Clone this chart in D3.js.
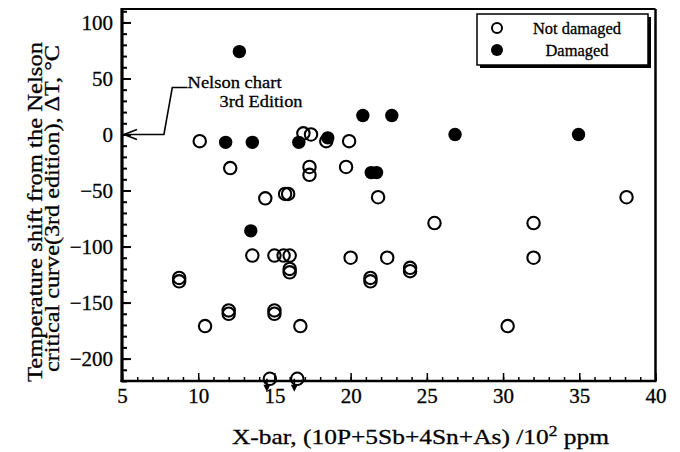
<!DOCTYPE html>
<html>
<head>
<meta charset="utf-8">
<script src="https://cdn.jsdelivr.net/npm/d3@7"></script>
<style>
  html, body { margin: 0; padding: 0; background: #fff; }
  svg { display: block; }
  text { font-family: "Liberation Serif", "Times New Roman", serif; fill: #000; stroke: #000; stroke-width: 0.3px; }
</style>
</head>
<body>
<svg id="chart" width="680" height="452"></svg>
<script>
// ---- data ----
const notDamagedX = [10.1, 12.1, 14.4, 15.7, 15.9, 16.9, 17.4, 17.3, 17.3, 18.4, 19.9, 19.7, 21.8, 38.1,
                     25.5, 32.0, 13.55, 15.0, 15.6, 16.0, 16.0, 16.0, 20.0, 22.4, 32.0,
                     8.75, 8.75, 21.3, 21.3, 23.9, 23.9, 10.45, 12.0, 12.0, 15.0, 15.0, 16.7, 30.3,
                     14.7, 16.5];
const notDamagedY = [-6, -30, -57, -53, -53, 1, 0, -29, -36, -6, -6, -29, -56, -56,
                     -79, -79, -108, -108, -108, -108, -120, -123, -110, -110, -110,
                     -128, -131, -128, -131, -119, -122, -171, -157, -160, -157, -160, -171, -171,
                     -218, -218];
const damagedX = [12.7, 11.8, 13.55, 16.6, 18.5, 20.8, 22.7, 21.35, 21.7, 26.85, 34.95, 13.45];
const damagedY = [74, -7, -7, -7, -3, 17, 17, -34, -34, 0, 0, -86];

const xTicks = [5, 10, 15, 20, 25, 30, 35, 40];
const yTicks = [100, 50, 0, -50, -100, -150, -200];
const legendLabels = ["Not damaged", "Damaged"];
const xTitle = ["X-bar, (10P+5Sb+4Sn+As) /10", "2", " ppm"];
const yTitle = ["Temperature shift from the Nelson", "critical curve(3rd edition), \u0394T, \u00B0C"];
const noteLines = ["Nelson chart", "3rd Edition"];
const nelsonLevel = 0;       // Nelson 3rd edition reference line (ΔT = 0)
const offScaleLimit = -215;  // points plotted at the bottom with a downward arrow

// ---- layout ----
const svg = d3.select("#chart");
const x = d3.scaleLinear().domain([5, 40]).range([122, 655.5]);
const y = d3.scaleLinear().domain([-220, 112]).range([381, 9]);
const [x0, x1] = x.range();
const [yb, yt] = y.range();

// minor ticks
const g = svg.append("g");
const xMinor = d3.range(5, 40.01, 1);
const yMinor = d3.range(-220, 110.01, 10);

g.append("g").attr("transform", `translate(0,${yb})`)
  .call(d3.axisBottom(x).tickValues(xMinor).tickSize(-4).tickFormat(""))
  .call(s => s.select(".domain").remove())
  .call(s => s.selectAll("line").attr("stroke", "#000").attr("stroke-width", 1.5));
g.append("g").attr("transform", `translate(${x0},0)`)
  .call(d3.axisLeft(y).tickValues(yMinor).tickSize(-5).tickFormat(""))
  .call(s => s.select(".domain").remove())
  .call(s => s.selectAll("line").attr("stroke", "#000").attr("stroke-width", 2));

// major ticks + labels
const xAxis = g.append("g").attr("transform", `translate(0,${yb})`)
  .call(d3.axisBottom(x).tickValues(xTicks).tickSize(-8).tickPadding(22).tickFormat(d3.format("d")));
xAxis.select(".domain").remove();
xAxis.selectAll("line").attr("stroke", "#000").attr("stroke-width", 1.5);
xAxis.selectAll("text").attr("font-size", 21).attr("dy", "0");

const yAxis = g.append("g").attr("transform", `translate(${x0},0)`)
  .call(d3.axisLeft(y).tickValues(yTicks).tickSize(-9).tickPadding(9));
yAxis.select(".domain").remove();
yAxis.selectAll("line").attr("stroke", "#000").attr("stroke-width", 2);
yAxis.selectAll("text").attr("font-size", 21);

// frame
svg.append("line").attr("x1", x0).attr("x2", x1).attr("y1", yt).attr("y2", yt).attr("stroke", "#000").attr("stroke-width", 2);
svg.append("line").attr("x1", x1).attr("x2", x1).attr("y1", yt).attr("y2", yb).attr("stroke", "#000").attr("stroke-width", 2.5);
svg.append("line").attr("x1", x0 - 1.5).attr("x2", x1 + 1).attr("y1", yb).attr("y2", yb).attr("stroke", "#000").attr("stroke-width", 2.5);
svg.append("line").attr("x1", x0).attr("x2", x0).attr("y1", yt - 1).attr("y2", yb + 1).attr("stroke", "#000").attr("stroke-width", 3.2);

// axis titles
const xt = svg.append("text").attr("x", 232).attr("y", 444).attr("font-size", 22)
  .attr("textLength", 377).attr("lengthAdjust", "spacingAndGlyphs");
xt.append("tspan").text(xTitle[0]);
xt.append("tspan").attr("dy", -8).attr("font-size", 15).text(xTitle[1]);
xt.append("tspan").attr("dy", 8).text(xTitle[2]);

const yLens = [340, 327];
const yEnds = [382, 372];
yTitle.forEach((t, i) => {
  svg.append("text")
    .attr("transform", `translate(${42 + i * 17},${yEnds[i]}) rotate(-90)`)
    .attr("font-size", 21)
    .attr("textLength", yLens[i]).attr("lengthAdjust", "spacingAndGlyphs")
    .text(t);
});

// points
const nd = notDamagedX.map((v, i) => ({x: v, y: notDamagedY[i]}));
const dm = damagedX.map((v, i) => ({x: v, y: damagedY[i]}));

svg.append("g").selectAll("circle").data(nd).join("circle")
  .attr("cx", d => x(d.x)).attr("cy", d => y(d.y)).attr("r", 6.2)
  .attr("fill", "none").attr("stroke", "#000").attr("stroke-width", 2.1);

svg.append("g").selectAll("circle").data(dm).join("circle")
  .attr("cx", d => x(d.x)).attr("cy", d => y(d.y)).attr("r", 6.7)
  .attr("fill", "#000");

// downward arrows for off-scale points
const off = nd.filter(d => d.y < offScaleLimit);
const ag = svg.append("g");
off.forEach(d => {
  const cx = x(d.x) - 3, cy = y(d.y);
  ag.append("line").attr("x1", cx).attr("x2", cx).attr("y1", cy).attr("y2", cy + 8)
    .attr("stroke", "#000").attr("stroke-width", 1.6);
  ag.append("path").attr("d", `M${cx - 3.5},${cy + 6} L${cx + 3.5},${cy + 6} L${cx},${cy + 13} Z`).attr("fill", "#000");
});

// Nelson chart annotation
const tipX = x(5) + 2, tipY = y(nelsonLevel);
const bendX = x(7.75), topX = x(8.3), topY = y(42), txtX = x(9.3);
svg.append("path")
  .attr("d", `M${txtX},${topY} L${topX},${topY} L${bendX},${tipY} L${tipX},${tipY}`)
  .attr("fill", "none").attr("stroke", "#000").attr("stroke-width", 1.6);
svg.append("path")
  .attr("d", `M${tipX + 13},${tipY - 5} L${tipX},${tipY} L${tipX + 13},${tipY + 5}`)
  .attr("fill", "none").attr("stroke", "#000").attr("stroke-width", 1.6);
svg.append("text").attr("x", txtX).attr("y", topY + 1).attr("font-size", 17.5)
  .attr("textLength", 94).attr("lengthAdjust", "spacingAndGlyphs").text(noteLines[0]);
svg.append("text").attr("x", x(11.4)).attr("y", topY + 20).attr("font-size", 17.5)
  .attr("textLength", 83).attr("lengthAdjust", "spacingAndGlyphs").text(noteLines[1]);

// legend
const lg = svg.append("g");
lg.append("rect").attr("x", 480).attr("y", 17).attr("width", 171).attr("height", 51).attr("fill", "#000");
lg.append("rect").attr("x", 477).attr("y", 14).attr("width", 171).attr("height", 51)
  .attr("fill", "#fff").attr("stroke", "#000").attr("stroke-width", 1.5);
lg.append("circle").attr("cx", 497).attr("cy", 28).attr("r", 5).attr("fill", "none").attr("stroke", "#000").attr("stroke-width", 2);
lg.append("circle").attr("cx", 497).attr("cy", 50).attr("r", 6).attr("fill", "#000");
const legLens = [88, 63];
legendLabels.forEach((t, i) => {
  lg.append("text").attr("x", 577 - legLens[i] / 2).attr("y", 34 + i * 22).attr("font-size", 16.5)
    .attr("textLength", legLens[i]).attr("lengthAdjust", "spacingAndGlyphs").text(t);
});
</script>
</body>
</html>
